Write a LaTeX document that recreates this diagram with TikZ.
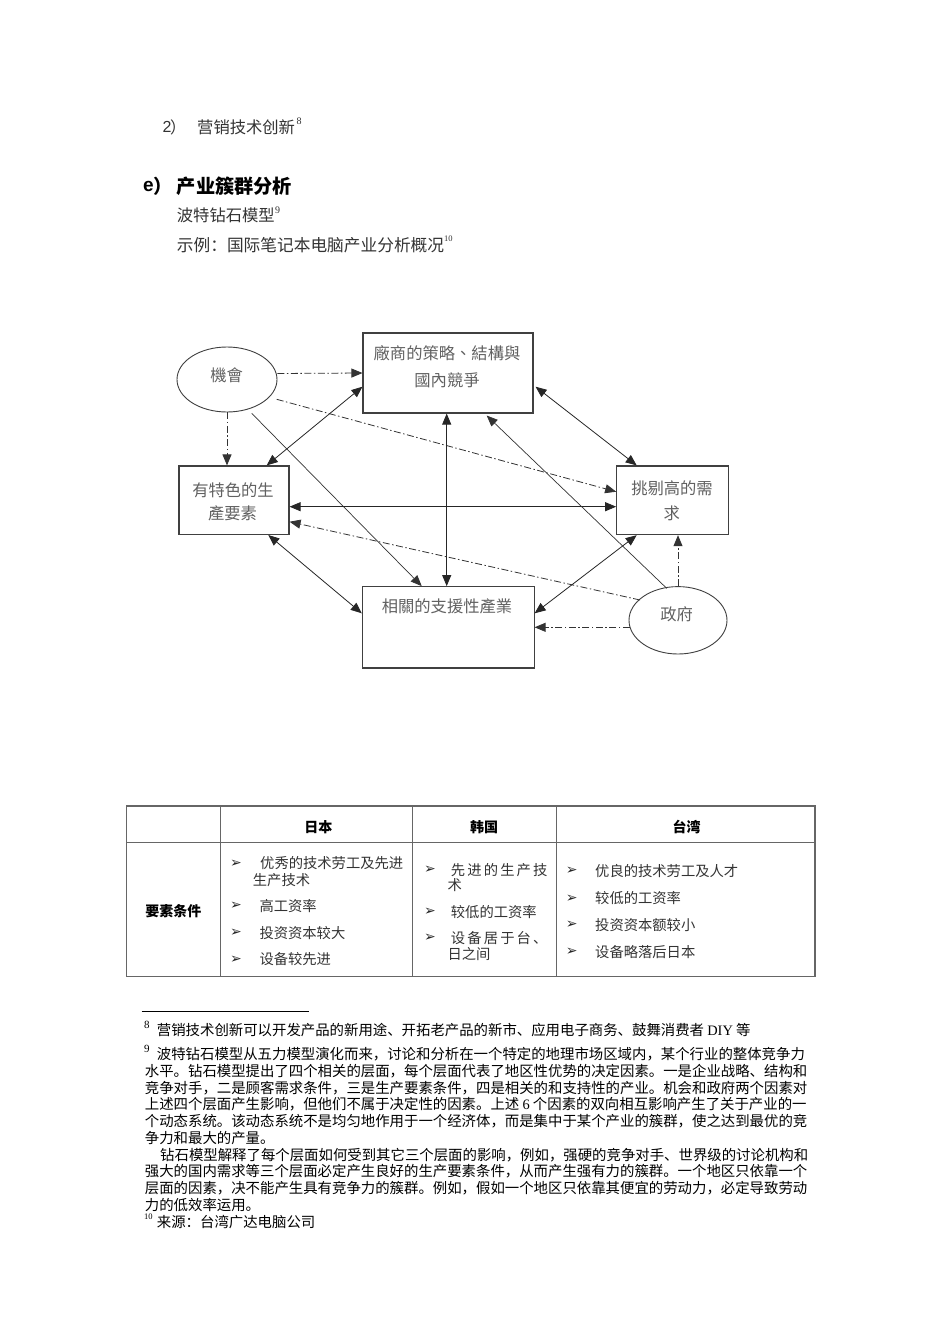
\documentclass[tikz,border=0pt]{standalone}
\usepackage{fontspec}
\setmainfont{Liberation Serif}
\newfontfamily\cjk{Noto Sans CJK SC}
\newfontfamily\cjktc{Noto Sans CJK TC}
\newfontfamily\symf{DejaVu Sans}
\newfontfamily\lsans{Liberation Sans}
\usetikzlibrary{arrows.meta,shapes.geometric,calc}
\newcommand\myfs[1]{\fontsize{#1}{#1}\selectfont}
\begin{document}
\begin{tikzpicture}[x=1pt,y=-1pt,
  >={Triangle[length=11pt,width=9pt]},
  txt/.style={anchor=west,inner sep=0pt},
  body/.style={txt,font=\cjk\myfs{16.3},text=black!80},
  fnote/.style={txt,font=\cjk\myfs{14.4},text=black},
  fmark/.style={txt,font=\rmfamily\myfs{11}},
  dgtext/.style={inner sep=0pt,font=\cjktc\myfs{16.3},text=black!62},
  box/.style={draw=black!75,line width=1.1pt,rectangle,inner sep=0pt},
  oval/.style={draw=black!75,line width=0.9pt,ellipse,inner sep=0pt},
  conn/.style={line width=0.8pt,draw=black!85},
  dd/.style={line width=0.8pt,draw=black!80,dash pattern=on 7pt off 2.5pt on 1.5pt off 2.5pt},
  thinl/.style={line width=0.7pt,draw=black!80},
  tline/.style={line width=1.2pt,draw=black!60},
  th/.style={inner sep=0pt,font=\cjk\bfseries\myfs{14},text=black},
  td/.style={txt,font=\cjk\myfs{14.3},text=black!80},
  bul/.style={txt,font=\symf\myfs{14},text=black!85}
]
\useasboundingbox[fill=white] (0,0) rectangle (950,1344);

% ---------- top text ----------
\node[txt,font=\lsans\myfs{16},text=black!80] (n2) at (162.5,127) {2};
\node[txt,font=\cjk\myfs{16},text=black!80] (n2p) at (170,127) {）};
\node[body] (t1) at (197,127) {营销技术创新};
\node[fmark,font=\rmfamily\myfs{10},text=black!80] (s8) at (296.5,121) {8};

\node[txt,font=\lsans\bfseries\myfs{19}] (he) at (143,186) {e};
\node[txt,font=\cjk\bfseries\myfs{19}] (hp) at (153,186) {）};
\node[txt,font=\cjk\bfseries\myfs{19.2}] (head) at (176.7,186) {产业簇群分析};

\node[body] (t2) at (176.7,215) {波特钻石模型};
\node[fmark,font=\rmfamily\myfs{10},text=black!80] (s9) at (275,210) {9};
\node[body,font=\cjk\myfs{16.7}] (t3) at (176.7,245) {示例：国际笔记本电脑产业分析概况};
\node[fmark,font=\rmfamily\myfs{8.5},text=black!80] (s10) at (444,239) {10};

% ---------- diagram ----------
\node[box,minimum width=170pt,minimum height=80pt] (top) at (448,373) {};
\node[box,minimum width=110pt,minimum height=68.5pt] (left) at (234,500.2) {};
\node[box,minimum width=112pt,minimum height=68.7pt] (right) at (672.7,500.3) {};
\node[box,minimum width=171.7pt,minimum height=81.3pt] (bottom) at (448.2,627.3) {};
\node[oval,minimum width=100pt,minimum height=65pt] (chance) at (227,379.5) {};
\node[oval,minimum width=98pt,minimum height=67.4pt] (gov) at (678,620.3) {};

\node[dgtext] (toptxa) at (447,353) {廠商的策略、結構與};
\node[dgtext] (toptxb) at (447,380) {國內競爭};
\node[dgtext] (lefttxa) at (233,490) {有特色的生};
\node[dgtext] (lefttxb) at (232.5,513) {產要素};
\node[dgtext] (righttxa) at (672,488) {挑剔高的需};
\node[dgtext] (righttxb) at (671.7,513) {求};
\node[dgtext] (bottxt) at (447,606.7) {相關的支援性產業};
\node[dgtext] (chtxt) at (226.7,375) {機會};
\node[dgtext] (govtxt) at (676.7,614) {政府};

\draw[dd,->] ([yshift=6pt]chance.east) -- (top.west);
\draw[dd,->] (chance.south) -- (chance.south |- left.north);
\draw[dd,->] ([shift={(49.7,19.8)}]chance.center) -- ([shift={(0,-8.6)}]right.west);
\draw[thinl,->] ([shift={(24.7,33.8)}]chance.center) -- ([shift={(-26.5,0)}]bottom.north);
\draw[conn,<->] ([shift={(32.7,0)}]left.north) -- ([shift={(0,13.7)}]top.west);
\draw[conn,<->] ([xshift=-1.3pt]top.south) -- ([xshift=-1.5pt]bottom.north);
\draw[conn,<->] ([shift={(2,13.7)}]top.east) -- ([shift={(-36,0)}]right.north);
\draw[conn,<->] ([shift={(0,6.5)}]left.east) -- ([shift={(0,6.4)}]right.west);
\draw[dd,->] ([shift={(-38,-20.3)}]gov.center) -- ([shift={(0,21.5)}]left.east);
\draw[thinl,->] ([shift={(-11.3,-32)}]gov.center) -- ([shift={(38.7,2)}]top.south);
\draw[dd,->] (gov.north) -- (gov.north |- right.south);
\draw[dd,->] ([shift={(1,7)}]gov.west) -- (bottom.east);
\draw[conn,<->] ([shift={(-36,0)}]right.south) -- ([shift={(0,-14)}]bottom.east);
\draw[conn,<->] ([shift={(34.3,0)}]left.south) -- ([shift={(0,-14)}]bottom.west);

% ---------- table ----------
\draw[tline] (126.7,806) rectangle (815,976.7);
\draw[tline] (126.7,842.7) -- (815,842.7);
\draw[tline] (220.7,806) -- (220.7,976.7);
\draw[tline] (412.7,806) -- (412.7,976.7);
\draw[tline] (556.7,806) -- (556.7,976.7);

\node[th] (hjp) at (318.3,826.7) {日本};
\node[th] (hkr) at (484,826.7) {韩国};
\node[th] (htw) at (686.7,826.7) {台湾};
\node[th] (hrow) at (173.3,911) {要素条件};

\node[bul] (bj1) at (230,863.3) {➢};
\node[td] (j1a) at (260,863.3) {优秀的技术劳工及先进};
\node[td] (j1b) at (252.7,880) {生产技术};
\node[bul] (bj2) at (230,906) {➢};
\node[td] (j2) at (259.3,906) {高工资率};
\node[bul] (bj3) at (230,932.7) {➢};
\node[td] (j3) at (259.3,932.7) {投资资本较大};
\node[bul] (bj4) at (230,959.3) {➢};
\node[td] (j4) at (259.3,959.3) {设备较先进};

\node[bul] (bk1) at (424,870) {➢};
\node[td] (k1a) at (450.7,870) {\makebox[96.6pt][s]{先\hfill 进\hfill 的\hfill 生\hfill 产\hfill 技}};
\node[td] (k1b) at (447.3,885) {术};
\node[bul] (bk2) at (424,911.7) {➢};
\node[td] (k2) at (450.7,911.7) {较低的工资率};
\node[bul] (bk3) at (424,937.7) {➢};
\node[td] (k3a) at (450.7,937.7) {\makebox[96.6pt][s]{设\hfill 备\hfill 居\hfill 于\hfill 台\hfill 、}};
\node[td] (k3b) at (447.3,954) {日之间};

\node[bul] (bt1) at (565.7,870.7) {➢};
\node[td] (tw1) at (595,870.7) {优良的技术劳工及人才};
\node[bul] (bt2) at (565.7,898.3) {➢};
\node[td] (tw2) at (595,898.3) {较低的工资率};
\node[bul] (bt3) at (565.7,925) {➢};
\node[td] (tw3) at (595,925) {投资资本额较小};
\node[bul] (bt4) at (565.7,951.7) {➢};
\node[td] (tw4) at (595,951.7) {设备略落后日本};

% ---------- footnotes ----------
\draw[line width=0.8pt] (141.7,1011) -- (309.3,1011);
\node[fmark] (m8) at (144,1025) {8};
\node[fnote] (f8) at (156.7,1030.5) {营销技术创新可以开发产品的新用途、开拓老产品的新市、应用电子商务、鼓舞消费者 {\rmfamily DIY} 等};
\node[fmark] (m9) at (144,1049) {9};
\node[fnote] (f9a) at (156.7,1054.3) {波特钻石模型从五力模型演化而来，讨论和分析在一个特定的地理市场区域内，某个行业的整体竞争力};
\node[fnote] (f9b) at (144.7,1071.0) {水平。钻石模型提出了四个相关的层面，每个层面代表了地区性优势的决定因素。一是企业战略、结构和};
\node[fnote] (f9c) at (144.7,1087.8) {竞争对手，二是顾客需求条件，三是生产要素条件，四是相关的和支持性的产业。机会和政府两个因素对};
\node[fnote] (f9d) at (144.7,1104.5) {上述四个层面产生影响，但他们不属于决定性的因素。上述 {\rmfamily 6} 个因素的双向相互影响产生了关于产业的一};
\node[fnote] (f9e) at (144.7,1121.2) {个动态系统。该动态系统不是均匀地作用于一个经济体，而是集中于某个产业的簇群，使之达到最优的竞};
\node[fnote] (f9f) at (144.7,1138.0) {争力和最大的产量。};
\node[fnote] (f9g) at (160,1154.7) {钻石模型解释了每个层面如何受到其它三个层面的影响，例如，强硬的竞争对手、世界级的讨论机构和};
\node[fnote] (f9h) at (144.7,1171.4) {强大的国内需求等三个层面必定产生良好的生产要素条件，从而产生强有力的簇群。一个地区只依靠一个};
\node[fnote] (f9i) at (144.7,1188.1) {层面的因素，决不能产生具有竞争力的簇群。例如，假如一个地区只依靠其便宜的劳动力，必定导致劳动};
\node[fnote] (f9j) at (144.7,1204.9) {力的低效率运用。};
\node[fmark,font=\rmfamily\myfs{8.5}] (m10) at (144,1217) {10};
\node[fnote] (f10) at (156.7,1221.6) {来源：台湾广达电脑公司};
\end{tikzpicture}
\end{document}
